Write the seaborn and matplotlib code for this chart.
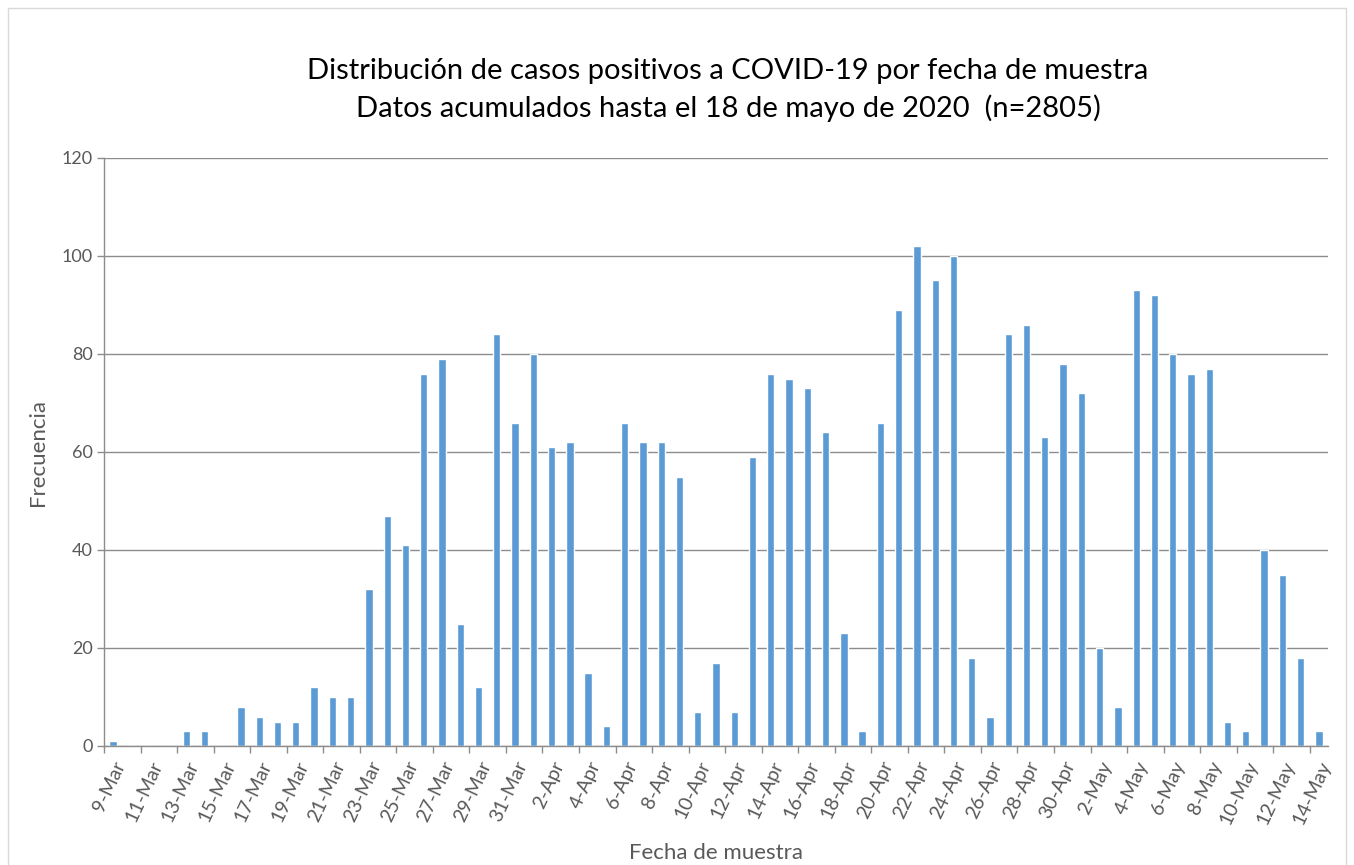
import numpy as np
import pandas as pd
import matplotlib.pyplot as plt
import seaborn as sns
from matplotlib.patches import Rectangle

# Datos: casos positivos por fecha de muestra (9-Mar a 14-May)
marzo = [1, 0, 0, 0, 3, 3, 0, 8, 6, 5, 5, 12, 10, 10, 32, 47, 41, 76, 79, 25, 12, 84, 66]
abril = [80, 61, 62, 15, 4, 66, 62, 62, 55, 7, 17, 7, 59, 76, 75, 73, 64, 23, 3, 66,
         89, 102, 95, 100, 18, 6, 84, 86, 63, 78]
mayo = [72, 20, 8, 93, 92, 80, 76, 77, 5, 3, 40, 35, 18, 3]

fechas = ([f"{d}-Mar" for d in range(9, 32)] +
          [f"{d}-Apr" for d in range(1, 31)] +
          [f"{d}-May" for d in range(1, 15)])
casos = marzo + abril + mayo

y_ticks = [0, 20, 40, 60, 80, 100, 120]

df = pd.DataFrame({"Fecha": fechas, "Casos": casos})

sns.set_theme(style="white")
plt.rcParams['font.family'] = ['Lato', 'DejaVu Sans']

GRIS_TEXTO = '#595959'
GRIS_LINEA = '#8c8c8c'

fig = plt.figure(figsize=(13.54, 8.65), dpi=100)
ax = fig.add_axes([104 / 1354, 1 - 746 / 865, (1328 - 104) / 1354, (746 - 158) / 865])

sns.barplot(data=df, x="Fecha", y="Casos", color='#5b9bd5', width=0.4,
            saturation=1, ax=ax)

ax.set_xlim(-0.5, len(fechas) - 0.5)
ax.set_ylim(0, 120)
ax.set_yticks(y_ticks)
ax.set_yticklabels([str(v) for v in y_ticks], fontsize=13, color=GRIS_TEXTO)
ax.yaxis.grid(True, color=GRIS_LINEA, linewidth=1)
ax.set_axisbelow(True)

# Etiquetas cada 2 días, marcas entre categorías
pos = np.arange(0, len(fechas), 2)
ax.set_xticks(pos)
ax.set_xticklabels([fechas[i] for i in pos], rotation=65, ha='right', va='top',
                   rotation_mode='anchor', fontsize=14, color=GRIS_TEXTO)
ax.set_xticks(np.arange(-0.5, len(fechas) - 1, 2), minor=True)
ax.tick_params(axis='x', which='major', length=0, pad=9)
ax.tick_params(axis='x', which='minor', length=5, width=1, color=GRIS_LINEA, bottom=True)
ax.tick_params(axis='y', which='major', length=5, width=1, color=GRIS_LINEA, left=True, pad=3)

for lado in ['top', 'right']:
    ax.spines[lado].set_visible(False)
for lado in ['left', 'bottom']:
    ax.spines[lado].set_color(GRIS_LINEA)
    ax.spines[lado].set_linewidth(1)

ax.set_xlabel('')
ax.set_ylabel('Frecuencia', fontsize=16, color=GRIS_TEXTO, labelpad=10)
fig.text(716 / 1354, 1 - 853 / 865, 'Fecha de muestra', ha='center', va='center',
         fontsize=16, color=GRIS_TEXTO)

fig.text(728 / 1354, 1 - 90 / 865,
         'Distribución de casos positivos a COVID-19 por fecha de muestra\n'
         'Datos acumulados hasta el 18 de mayo de 2020  (n=2805)',
         ha='center', va='center', fontsize=21, color='black', linespacing=1.45)

# Borde del área del gráfico
fig.patches.append(Rectangle((8 / 1354, -0.02), 1338 / 1354, 1.02 - 8 / 865,
                             transform=fig.transFigure, fill=False,
                             edgecolor='#d9d9d9', linewidth=1))

plt.savefig('out.png', dpi=100)
plt.close()
